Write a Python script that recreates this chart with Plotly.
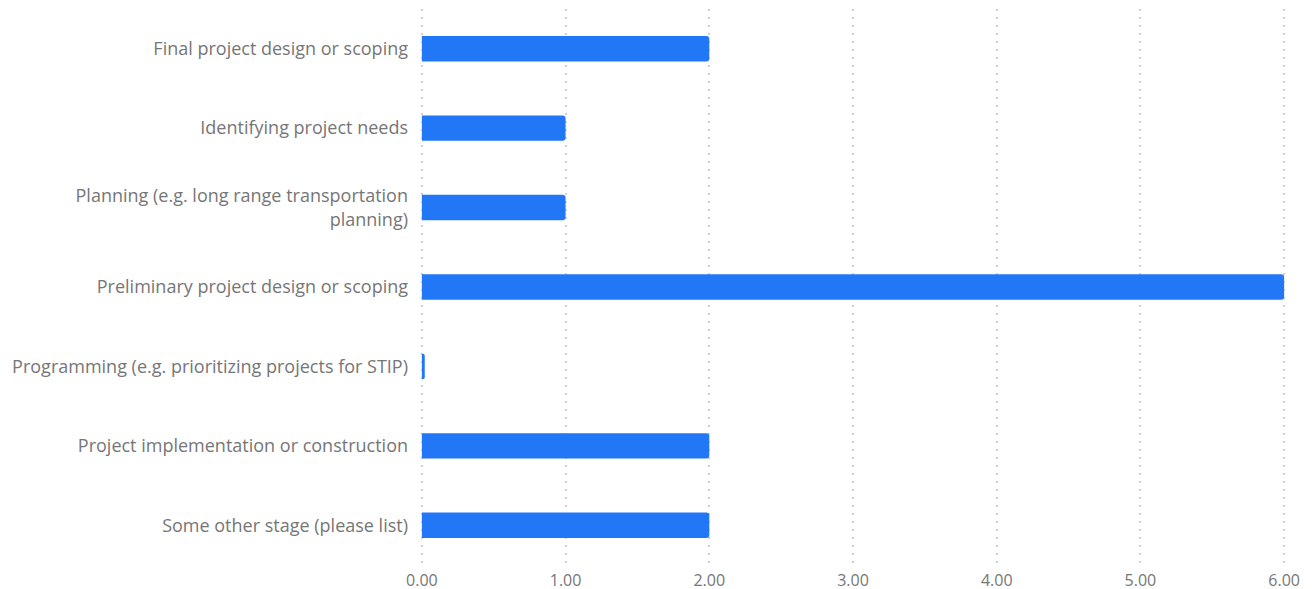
import plotly.graph_objects as go

categories = [
    "Final project design or scoping",
    "Identifying project needs",
    "Planning (e.g. long range transportation<br>planning)",
    "Preliminary project design or scoping",
    "Programming (e.g. prioritizing projects for STIP)",
    "Project implementation or construction",
    "Some other stage (please list)",
]
values = [2, 1, 1, 6, 0.02, 2, 2]
x_ticks = [0, 1, 2, 3, 4, 5, 6]

fig = go.Figure(go.Bar(
    x=values, y=categories, orientation="h",
    marker=dict(color="#2277F6", line=dict(width=0)),
    hoverinfo="x+y",
))
fig.update_layout(
    width=1312, height=589,
    margin=dict(l=411, r=33, t=1, b=32),
    paper_bgcolor="white", plot_bgcolor="white",
    bargap=0.68, barcornerradius=3,
    font=dict(family="Open Sans", size=17, color="#767676"),
    showlegend=False,
)
fig.update_xaxes(
    range=[-0.02, 6.02], tickvals=x_ticks, tickformat=".2f",
    tickfont=dict(size=16),
    showgrid=True, gridcolor="#cfcfcf", griddash="2px,6px", gridwidth=2,
    zeroline=False, showline=False, ticks="", ticklabelstandoff=4,
)
fig.update_yaxes(
    autorange="reversed", showgrid=False, zeroline=False, showline=False,
    ticks="", ticklabelstandoff=10, tickfont=dict(size=18),
)
fig.write_html("out.html")
